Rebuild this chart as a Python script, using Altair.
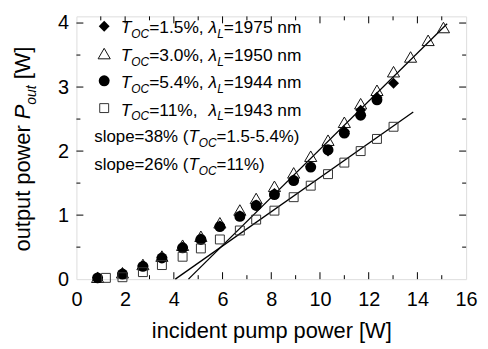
import altair as alt
import pandas as pd

# ---------------- data ----------------
x_pump = [0.87, 1.89, 2.73, 3.51, 4.36, 5.11, 5.89, 6.71, 7.38, 8.13,
          8.92, 9.62, 10.33, 11.0, 11.67, 12.34, 13.02, 13.72, 14.44, 15.07]
p_15 = [0.02, 0.09, 0.21, 0.34, 0.50, 0.63, 0.83, 0.99, 1.16, 1.34,
        1.55, 1.76, 2.00, 2.31, 2.64, 2.84, 3.06]
p_30 = [0.03, 0.10, 0.23, 0.36, 0.53, 0.67, 0.88, 1.08, 1.26, 1.45,
        1.66, 1.92, 2.17, 2.45, 2.74, 2.95, 3.24, 3.47, 3.73, 3.93]
p_54 = [0.02, 0.08, 0.20, 0.33, 0.49, 0.62, 0.82, 0.98, 1.15, 1.32,
        1.54, 1.75, 2.02, 2.28, 2.56, 2.80]
x_11 = [1.21, 1.89, 2.73, 3.51, 4.36, 5.11, 5.89, 6.71, 7.38, 8.13,
        8.92, 9.62, 10.33, 11.0, 11.67, 12.34, 13.02]
p_11 = [0.02, 0.03, 0.11, 0.22, 0.35, 0.48, 0.62, 0.76, 0.93, 1.07,
        1.28, 1.46, 1.64, 1.82, 2.00, 2.19, 2.38]
fit38_x = [4.6, 15.22]
fit38_y = [0.0, 3.99]
fit26_x = [4.06, 13.83]
fit26_y = [0.0, 2.61]

x_major = [0, 2, 4, 6, 8, 10, 12, 14, 16]
x_minor = [1, 3, 5, 7, 9, 11, 13, 15]
y_major = [0, 1, 2, 3, 4]
y_minor = [0.5, 1.5, 2.5, 3.5]

legend_rows = [
    ("1.5%", "1975"),
    ("3.0%", "1950"),
    ("5.4%", "1944"),
    ("11%", "1943"),
]
slope_rows = [("slope=38% (", "=1.5-5.4%)"), ("slope=26% (", "=11%)")]

# ---------------- layout ----------------
W, H = 393, 265
FONT = "Liberation Sans"
xs = alt.Scale(domain=[0, 16], nice=False, zero=False)
ys = alt.Scale(domain=[0, 4.104], nice=False, zero=False)
x_axis = alt.Axis(values=x_major, ticks=False, domain=False, grid=False,
                  labelFontSize=20, labelFont=FONT, labelColor="black",
                  labelPadding=11, labelFlush=False, labelOverlap=False,
                  title="incident pump power [W]",
                  titleFont=FONT, titleFontSize=22, titleFontWeight="normal",
                  titleColor="black", titleY=59, titleBaseline="alphabetic")
y_axis = alt.Axis(values=y_major, ticks=False, domain=False, grid=False,
                  labelFontSize=20, labelFont=FONT, labelColor="black",
                  labelPadding=8, labelFlush=False, labelOverlap=False, title=None)

ADV = {' ': 278, '%': 889, '(': 333, ')': 333, ',': 278, '-': 333, '.': 278,
       '=': 584, '[': 278, ']': 278, 'T': 611, 'O': 778, 'C': 722, 'L': 556,
       'P': 667, 'W': 944, 'a': 556, 'c': 500, 'e': 556, 'l': 222, 'm': 833,
       'n': 556, 'o': 556, 'p': 556, 's': 500, 't': 278, 'u': 556, 'r': 333,
       'w': 722, 'λ': 500}


def tw(s, size):
    return sum(ADV.get(c, 556) for c in s) / 1000.0 * size


one = pd.DataFrame({"k": [0]})


def piece(text, px, py, size, italic=False, angle=0, dx=0, dy=0):
    kw = dict(text=text.strip(), align="left", baseline="alphabetic",
              font=FONT, fontSize=size, color="black")
    if italic:
        kw["fontStyle"] = "italic"
    if angle:
        kw["angle"] = angle
    if dx:
        kw["dx"] = dx
    if dy:
        kw["dy"] = dy
    return alt.Chart(one).mark_text(**kw).encode(x=alt.value(px), y=alt.value(py))


def rich(parts, px, py, main, sub, subdy):
    out = []
    off = 0.0
    for text, italic, is_sub in parts:
        size = sub if is_sub else main
        out.append(piece(text, px + off, py + (subdy if is_sub else 0), size, italic))
        off += tw(text, size)
    return out


layers = []

# inward ticks on all four sides
def tick_layer(vals, length, side):
    df = pd.DataFrame({"v": vals})
    c = alt.Chart(df).mark_rule(color="black", strokeWidth=1)
    if side == "bottom":
        return c.encode(x=alt.X("v:Q", scale=xs, axis=x_axis), y=alt.value(H), y2=alt.value(H - length))
    if side == "top":
        return c.encode(x=alt.X("v:Q", scale=xs, axis=x_axis), y=alt.value(0), y2=alt.value(length))
    if side == "left":
        return c.encode(y=alt.Y("v:Q", scale=ys, axis=y_axis), x=alt.value(0), x2=alt.value(length))
    return c.encode(y=alt.Y("v:Q", scale=ys, axis=y_axis), x=alt.value(W), x2=alt.value(W - length))

for side in ["bottom", "top"]:
    layers.append(tick_layer(x_major[1:-1], 7, side))
    layers.append(tick_layer(x_minor, 4, side))
for side in ["left", "right"]:
    layers.append(tick_layer(y_major[1:], 7, side))
    layers.append(tick_layer(y_minor, 4, side))

# fit lines
for fx, fy in [(fit38_x, fit38_y), (fit26_x, fit26_y)]:
    df = pd.DataFrame({"x": fx, "y": fy})
    layers.append(alt.Chart(df).mark_line(color="black", strokeWidth=1.3).encode(
        x=alt.X("x:Q", scale=xs, axis=x_axis), y=alt.Y("y:Q", scale=ys, axis=y_axis)))


def series(xv, yv, shape, filled, size, color):
    df = pd.DataFrame({"x": xv[:len(yv)], "y": yv})
    kw = dict(shape=shape, size=size, opacity=1)
    if filled:
        kw.update(filled=True, color=color, strokeWidth=0)
    else:
        kw.update(filled=False, stroke=color, strokeWidth=1)
    return alt.Chart(df).mark_point(**kw).encode(
        x=alt.X("x:Q", scale=xs, axis=x_axis), y=alt.Y("y:Q", scale=ys, axis=y_axis))

STY = [("diamond", True, 121, "black"),
       ("triangle-up", False, 150, "#111"),
       ("circle", True, 121, "black"),
       ("square", False, 81, "#333")]

layers.append(series(x_pump, p_30, *STY[1]))
layers.append(series(x_pump, p_15, *STY[0]))
layers.append(series(x_pump, p_54, *STY[2]))
layers.append(series(x_11, p_11, *STY[3]))

# legend block
mark_y = [10, 37.5, 65, 92.5]
text_base = [17, 45, 72, 100]
for (shape, filled, size, color), my in zip(STY, mark_y):
    kw = dict(shape=shape, size=size, opacity=1)
    if filled:
        kw.update(filled=True, color=color, strokeWidth=0)
    else:
        kw.update(filled=False, stroke=color, strokeWidth=1)
    layers.append(alt.Chart(one).mark_point(**kw).encode(x=alt.value(28), y=alt.value(my)))

for (toc, lam), by in zip(legend_rows, text_base):
    gap = ", " if toc != "11%" else ",  "
    parts = [("T", True, False), ("OC", True, True),
             ("=" + toc + gap, False, False),
             ("λ", True, False), ("L", True, True),
             ("=" + lam + " nm", False, False)]
    layers += rich(parts, 44.7, by, 17.5, 12, 5)

for (a, b), by in zip(slope_rows, [126.5, 154.5]):
    parts = [(a, False, False), ("T", True, False), ("OC", True, True), (b, False, False)]
    layers += rich(parts, 18, by, 17, 12, 5)

# rotated y-axis title with subscript
yt = [("output power ", False, 22), ("P", True, 22), ("out", True, 14), (" [W]", False, 22)]
off = 0.0
for text, italic, size in yt:
    lead = tw(text[:len(text) - len(text.lstrip())], size)
    layers.append(piece(text, -47, 237, size, italic, angle=270,
                        dx=off + lead, dy=(6 if size == 14 else 0)))
    off += tw(text, size)

chart = alt.layer(*layers).properties(
    width=W, height=H,
    padding={"left": 69, "top": 7, "right": 14, "bottom": 69},
    autosize=alt.AutoSizeParams(type="none"),
).configure_view(stroke="black", strokeWidth=1.5).configure(background="white")

chart.save("out.html", embed_options={"renderer": "svg", "actions": False})
